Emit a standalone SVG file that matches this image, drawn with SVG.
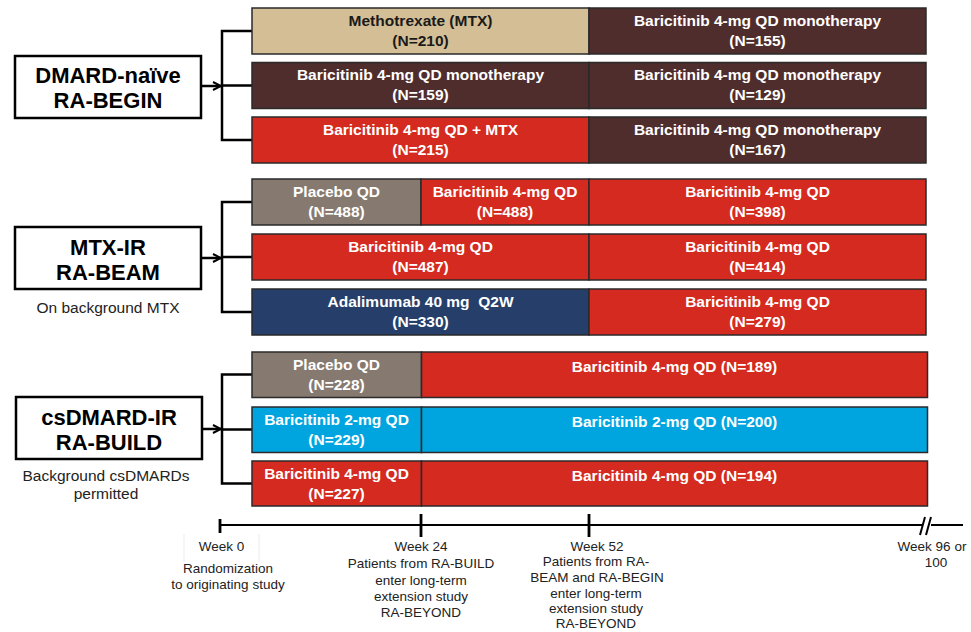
<svg xmlns="http://www.w3.org/2000/svg" width="971" height="632" viewBox="0 0 971 632">
<defs>
<style>
.bar{stroke:#2a2a2a;stroke-width:1.5}
.bt{font-family:"Liberation Sans",Arial,sans-serif;font-weight:bold;font-size:15.5px;fill:#ffffff;text-anchor:middle}
.dk{fill:#1a1a1a}
.box{fill:#ffffff;stroke:#000000;stroke-width:2.5}
.bx{font-family:"Liberation Sans",Arial,sans-serif;font-weight:bold;font-size:22px;fill:#000000;text-anchor:middle}
.nt{font-family:"Liberation Sans",Arial,sans-serif;font-size:13.5px;fill:#222222;text-anchor:middle}
.sn{font-family:"Liberation Sans",Arial,sans-serif;font-size:15.5px;fill:#222222;text-anchor:middle}
.con{fill:none;stroke:#000000;stroke-width:2.5}
.tl{fill:none;stroke:#000000;stroke-width:2}
.tk{fill:none;stroke:#000000;stroke-width:2.8}
.tan{fill:#D4BE96}.brn{fill:#4F2D2C}.red{fill:#D42A20}.gry{fill:#867A70}.nav{fill:#253F6A}.cya{fill:#00A5E0}
</style>
<marker id="chev" viewBox="0 0 10 10" refX="9" refY="5" markerWidth="10" markerHeight="10" markerUnits="userSpaceOnUse" orient="auto">
<path d="M1,1 L9,5 L1,9" fill="none" stroke="#000" stroke-width="2"/>
</marker>
</defs>
<rect width="971" height="632" fill="#ffffff"/>

<!-- connectors -->
<g id="connectors">
<path class="con" d="M201,86 H221" marker-end="url(#chev)"/>
<path class="con" d="M252,31 H222 V140 H252 M222,85.5 H252"/>
<path class="con" d="M201,258 H221" marker-end="url(#chev)"/>
<path class="con" d="M252,202 H222 V312 H252 M222,257 H252"/>
<path class="con" d="M202,429 H221" marker-end="url(#chev)"/>
<path class="con" d="M252,374.5 H222 V483.5 H252 M222,429.5 H252"/>
</g>

<!-- study boxes -->
<g id="study-begin">
<rect class="box" x="15" y="56" width="186" height="62"/>
<text class="bx" x="108" y="83">DMARD-naïve</text>
<text class="bx" x="108" y="108">RA-BEGIN</text>
</g>
<g id="study-beam">
<rect class="box" x="15" y="227" width="186" height="62"/>
<text class="bx" x="108" y="254.5">MTX-IR</text>
<text class="bx" x="108" y="279.5">RA-BEAM</text>
<text class="sn" x="108" y="313">On background MTX</text>
</g>
<g id="study-build">
<rect class="box" x="16" y="397" width="186" height="62"/>
<text class="bx" x="109" y="424.5">csDMARD-IR</text>
<text class="bx" x="109" y="449.5">RA-BUILD</text>
<text class="sn" x="106" y="481">Background csDMARDs</text>
<text class="sn" x="106" y="499">permitted</text>
</g>

<!-- RA-BEGIN arms -->
<g id="begin-arm1">
<rect class="bar tan" x="252" y="8" width="337" height="46"/>
<rect class="bar brn" x="589" y="8" width="337" height="46"/>
<text class="bt dk" x="420.5" y="25.5">Methotrexate (MTX)</text>
<text class="bt dk" x="420.5" y="45.5">(N=210)</text>
<text class="bt" x="757.5" y="25.5">Baricitinib 4-mg QD monotherapy</text>
<text class="bt" x="757.5" y="45.5">(N=155)</text>
</g>
<g id="begin-arm2">
<rect class="bar brn" x="252" y="62.5" width="337" height="46"/>
<rect class="bar brn" x="589" y="62.5" width="337" height="46"/>
<text class="bt" x="420.5" y="80">Baricitinib 4-mg QD monotherapy</text>
<text class="bt" x="420.5" y="100">(N=159)</text>
<text class="bt" x="757.5" y="80">Baricitinib 4-mg QD monotherapy</text>
<text class="bt" x="757.5" y="100">(N=129)</text>
</g>
<g id="begin-arm3">
<rect class="bar red" x="252" y="117" width="337" height="46"/>
<rect class="bar brn" x="589" y="117" width="337" height="46"/>
<text class="bt" x="420.5" y="134.5">Baricitinib 4-mg QD + MTX</text>
<text class="bt" x="420.5" y="154.5">(N=215)</text>
<text class="bt" x="757.5" y="134.5">Baricitinib 4-mg QD monotherapy</text>
<text class="bt" x="757.5" y="154.5">(N=167)</text>
</g>

<!-- RA-BEAM arms -->
<g id="beam-arm1">
<rect class="bar gry" x="252" y="179" width="169" height="46"/>
<rect class="bar red" x="421" y="179" width="168" height="46"/>
<rect class="bar red" x="589" y="179" width="337" height="46"/>
<text class="bt" x="336.5" y="196.5">Placebo QD</text>
<text class="bt" x="336.5" y="216.5">(N=488)</text>
<text class="bt" x="505" y="196.5">Baricitinib 4-mg QD</text>
<text class="bt" x="505" y="216.5">(N=488)</text>
<text class="bt" x="757.5" y="196.5">Baricitinib 4-mg QD</text>
<text class="bt" x="757.5" y="216.5">(N=398)</text>
</g>
<g id="beam-arm2">
<rect class="bar red" x="252" y="234" width="337" height="46"/>
<rect class="bar red" x="589" y="234" width="337" height="46"/>
<text class="bt" x="420.5" y="251.5">Baricitinib 4-mg QD</text>
<text class="bt" x="420.5" y="271.5">(N=487)</text>
<text class="bt" x="757.5" y="251.5">Baricitinib 4-mg QD</text>
<text class="bt" x="757.5" y="271.5">(N=414)</text>
</g>
<g id="beam-arm3">
<rect class="bar nav" x="252" y="289" width="337" height="46"/>
<rect class="bar red" x="589" y="289" width="337" height="46"/>
<text class="bt" x="420.5" y="306.5" xml:space="preserve">Adalimumab 40 mg  Q2W</text>
<text class="bt" x="420.5" y="326.5">(N=330)</text>
<text class="bt" x="757.5" y="306.5">Baricitinib 4-mg QD</text>
<text class="bt" x="757.5" y="326.5">(N=279)</text>
</g>

<!-- RA-BUILD arms -->
<g id="build-arm1">
<rect class="bar gry" x="252" y="352" width="169.5" height="45.5"/>
<rect class="bar red" x="421.5" y="352" width="506" height="45.5"/>
<text class="bt" x="336.5" y="369.5">Placebo QD</text>
<text class="bt" x="336.5" y="389.5">(N=228)</text>
<text class="bt" x="674.5" y="372">Baricitinib 4-mg QD (N=189)</text>
</g>
<g id="build-arm2">
<rect class="bar cya" x="252" y="407" width="169.5" height="45.5"/>
<rect class="bar cya" x="421.5" y="407" width="506" height="45.5"/>
<text class="bt" x="336.5" y="424.5">Baricitinib 2-mg QD</text>
<text class="bt" x="336.5" y="444.5">(N=229)</text>
<text class="bt" x="674.5" y="427">Baricitinib 2-mg QD (N=200)</text>
</g>
<g id="build-arm3">
<rect class="bar red" x="252" y="461" width="169.5" height="45"/>
<rect class="bar red" x="421.5" y="461" width="506" height="45"/>
<text class="bt" x="336.5" y="478.5">Baricitinib 4-mg QD</text>
<text class="bt" x="336.5" y="498.5">(N=227)</text>
<text class="bt" x="674.5" y="481">Baricitinib 4-mg QD (N=194)</text>
</g>

<!-- timeline -->
<g id="timeline">
<path class="tl" d="M220,525 H922 M931,525 H963"/>
<path class="tk" d="M220,519 V533 M421,514 V537 M589,514 V537"/>
<path class="tl" d="M920,535 L925,517 M926,535 L931,517"/>
<path d="M184,534 V562 M259,534 V562" stroke="#ececec" stroke-width="1"/>
<text class="nt" x="221.5" y="551">Week 0</text>
<text class="nt" x="228" y="573">Randomization</text>
<text class="nt" x="228" y="589">to originating study</text>
<text class="nt" x="421" y="551">Week 24</text>
<text class="nt" x="421" y="568">Patients from RA-BUILD</text>
<text class="nt" x="421" y="585">enter long-term</text>
<text class="nt" x="421" y="601">extension study</text>
<text class="nt" x="421" y="617">RA-BEYOND</text>
<text class="nt" x="597" y="551">Week 52</text>
<text class="nt" x="596" y="566">Patients from RA-</text>
<text class="nt" x="597" y="582">BEAM and RA-BEGIN</text>
<text class="nt" x="596" y="598">enter long-term</text>
<text class="nt" x="596" y="613">extension study</text>
<text class="nt" x="596" y="628">RA-BEYOND</text>
<text class="nt" x="932" y="551">Week 96 or</text>
<text class="nt" x="936" y="567">100</text>
</g>
</svg>
